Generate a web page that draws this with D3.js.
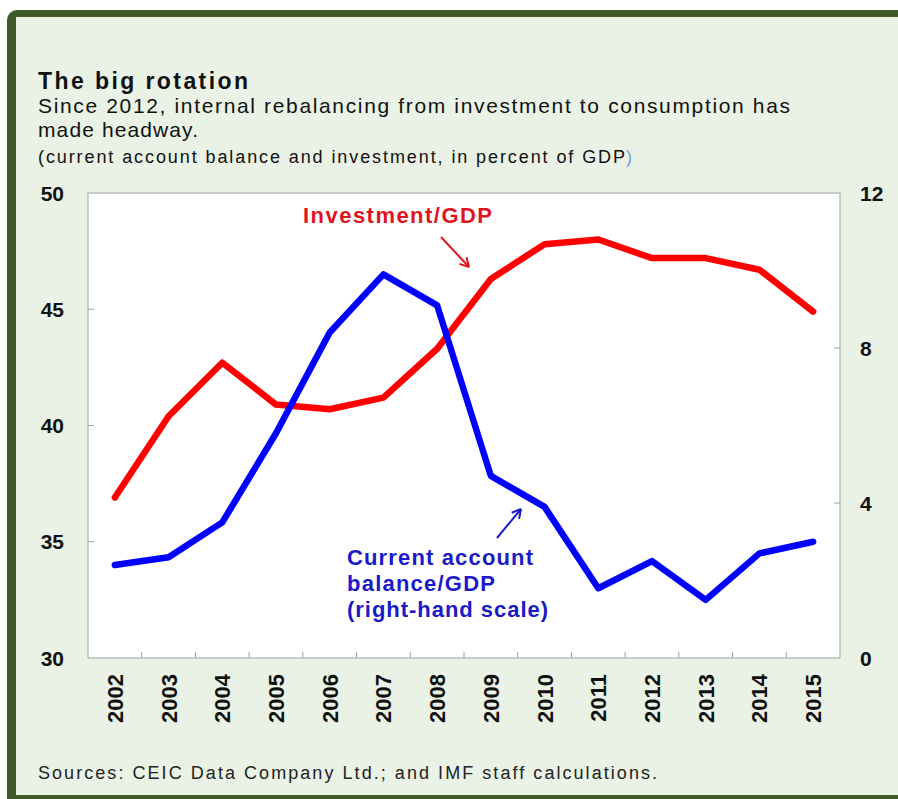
<!DOCTYPE html>
<html>
<head>
<meta charset="utf-8">
<script src="https://cdn.jsdelivr.net/npm/d3@7"></script>
<style>
body { margin: 0; background: #fff; }
text { font-family: "Liberation Sans", Arial, sans-serif; }
</style>
</head>
<body>
<div><svg id="svg0" width="898" height="799"></svg></div>
<script>
var svg0 = d3.select('#svg0');

// data
var years = ['2002','2003','2004','2005','2006','2007','2008','2009','2010','2011','2012','2013','2014','2015'];
var investment = [36.9, 40.4, 42.7, 40.9, 40.7, 41.2, 43.3, 46.3, 47.8, 48.0, 47.2, 47.2, 46.7, 44.9];
var current_account = [2.4, 2.6, 3.5, 5.8, 8.4, 9.9, 9.1, 4.7, 3.9, 1.8, 2.5, 1.5, 2.7, 3.0];
var left_ticks = [30, 35, 40, 45, 50];
var right_ticks = [0, 4, 8, 12];

var frame_green = '#3f5a26', bg_green = '#e9f2e4';
var plot = {left: 88, right: 840, top: 193, bottom: 658};

// frame
svg0.append('rect').attr('x', 7).attr('y', 10).attr('width', 940).attr('height', 840)
	.attr('rx', 10).attr('fill', frame_green);
svg0.append('rect').attr('x', 16).attr('y', 17).attr('width', 940).attr('height', 778)
	.attr('fill', bg_green);

// title block
var title_lines = [
	{t: 'The big rotation', y: 89, size: 23, w: 'bold', len: 210},
	{t: 'Since 2012, internal rebalancing from investment to consumption has', y: 113, size: 21, w: 'normal', len: 752},
	{t: 'made headway.', y: 137, size: 21, w: 'normal', len: 160},
	{t: '(current account balance and investment, in percent of GDP', y: 163, size: 18, w: 'normal', len: 587}
];
svg0.selectAll('.title').data(title_lines).enter().append('text').attr('class', 'title')
	.attr('x', 38).attr('y', d => d.y).attr('font-size', d => d.size).attr('font-weight', d => d.w)
	.attr('fill', '#111').attr('textLength', d => d.len).attr('lengthAdjust', 'spacing')
	.text(d => d.t);
svg0.append('text').attr('x', 626).attr('y', 163).attr('font-size', 18).attr('fill', '#6fa0e0').text(')');

// scales
var x_band = d3.scaleBand().domain(years).range([plot.left, plot.right]);
var y_left = d3.scaleLinear().domain([30, 50]).range([plot.bottom, plot.top]);
var y_right = d3.scaleLinear().domain([0, 12]).range([plot.bottom, plot.top]);
var x_mid = d => x_band(d) + x_band.bandwidth()/2;

// plot area
svg0.append('rect').attr('x', plot.left).attr('y', plot.top)
	.attr('width', plot.right-plot.left).attr('height', plot.bottom-plot.top)
	.attr('fill', '#fff').attr('stroke', '#a0a0a0').attr('stroke-width', 1);

// ticks inside plot
var tick_col = '#a0a0a0';
svg0.selectAll('.lt').data(left_ticks.slice(1, -1)).enter().append('line').attr('class', 'lt')
	.attr('x1', plot.left).attr('x2', plot.left+6).attr('y1', d => y_left(d)).attr('y2', d => y_left(d))
	.attr('stroke', tick_col);
svg0.selectAll('.rt').data(right_ticks.slice(1, -1)).enter().append('line').attr('class', 'rt')
	.attr('x1', plot.right-6).attr('x2', plot.right).attr('y1', d => y_right(d)).attr('y2', d => y_right(d))
	.attr('stroke', tick_col);
svg0.selectAll('.xt').data(years.slice(1)).enter().append('line').attr('class', 'xt')
	.attr('x1', d => x_band(d)).attr('x2', d => x_band(d)).attr('y1', plot.bottom-6).attr('y2', plot.bottom)
	.attr('stroke', tick_col);

// axis labels
svg0.selectAll('.ll').data(left_ticks).enter().append('text').attr('class', 'll')
	.attr('x', 64).attr('y', d => y_left(d)).attr('dy', '0.36em').attr('text-anchor', 'end')
	.attr('font-size', 21).attr('font-weight', 'bold').attr('fill', '#111').text(d => d);
svg0.selectAll('.rl').data(right_ticks).enter().append('text').attr('class', 'rl')
	.attr('x', 860).attr('y', d => y_right(d)).attr('dy', '0.36em').attr('text-anchor', 'start')
	.attr('font-size', 21).attr('font-weight', 'bold').attr('fill', '#111').text(d => d);
svg0.selectAll('.xl').data(years).enter().append('text').attr('class', 'xl')
	.attr('transform', d => 'translate(' + (x_mid(d)+8) + ',674) rotate(-90)')
	.attr('text-anchor', 'end').attr('font-size', 22).attr('font-weight', 'bold').attr('fill', '#111')
	.text(d => d);

// lines
var inv_line = d3.line().x((d, i) => x_mid(years[i])).y(d => y_left(d));
var ca_line = d3.line().x((d, i) => x_mid(years[i])).y(d => y_right(d));
svg0.append('path').datum(investment).attr('d', inv_line).attr('fill', 'none')
	.attr('stroke', '#ff0000').attr('stroke-width', 6.5).attr('stroke-linejoin', 'round').attr('stroke-linecap', 'round');
svg0.append('path').datum(current_account).attr('d', ca_line).attr('fill', 'none')
	.attr('stroke', '#0000ff').attr('stroke-width', 6.5).attr('stroke-linejoin', 'round').attr('stroke-linecap', 'round');

// annotations
svg0.append('text').attr('x', 303).attr('y', 223).attr('font-size', 22).attr('font-weight', 'bold')
	.attr('fill', '#e0141e').attr('textLength', 189).attr('lengthAdjust', 'spacing').text('Investment/GDP');
var ca_lines = [['Current account', 186], ['balance/GDP', 148], ['(right-hand scale)', 201]];
svg0.selectAll('.cal').data(ca_lines).enter().append('text').attr('class', 'cal')
	.attr('x', 347).attr('y', (d, i) => 565 + i*26).attr('font-size', 22).attr('font-weight', 'bold')
	.attr('fill', '#1a1ac8').attr('textLength', d => d[1]).attr('lengthAdjust', 'spacing').text(d => d[0]);

function arrow(x1, y1, x2, y2, col) {
	svg0.append('line').attr('x1', x1).attr('y1', y1).attr('x2', x2).attr('y2', y2)
		.attr('stroke', col).attr('stroke-width', 2);
	var a = Math.atan2(y2-y1, x2-x1), h = 10;
	[-0.5, 0.5].forEach(s => {
		svg0.append('line').attr('x1', x2).attr('y1', y2)
			.attr('x2', x2 - h*Math.cos(a+s)).attr('y2', y2 - h*Math.sin(a+s))
			.attr('stroke', col).attr('stroke-width', 2);
	});
}
arrow(441, 237, 469, 267, '#e0141e');
arrow(497, 538, 521, 509, '#1a1ac8');

// source
svg0.append('text').attr('x', 38).attr('y', 779).attr('font-size', 18).attr('fill', '#222')
	.attr('textLength', 619).attr('lengthAdjust', 'spacing')
	.text('Sources: CEIC Data Company Ltd.; and IMF staff calculations.');
</script>
</body>
</html>
